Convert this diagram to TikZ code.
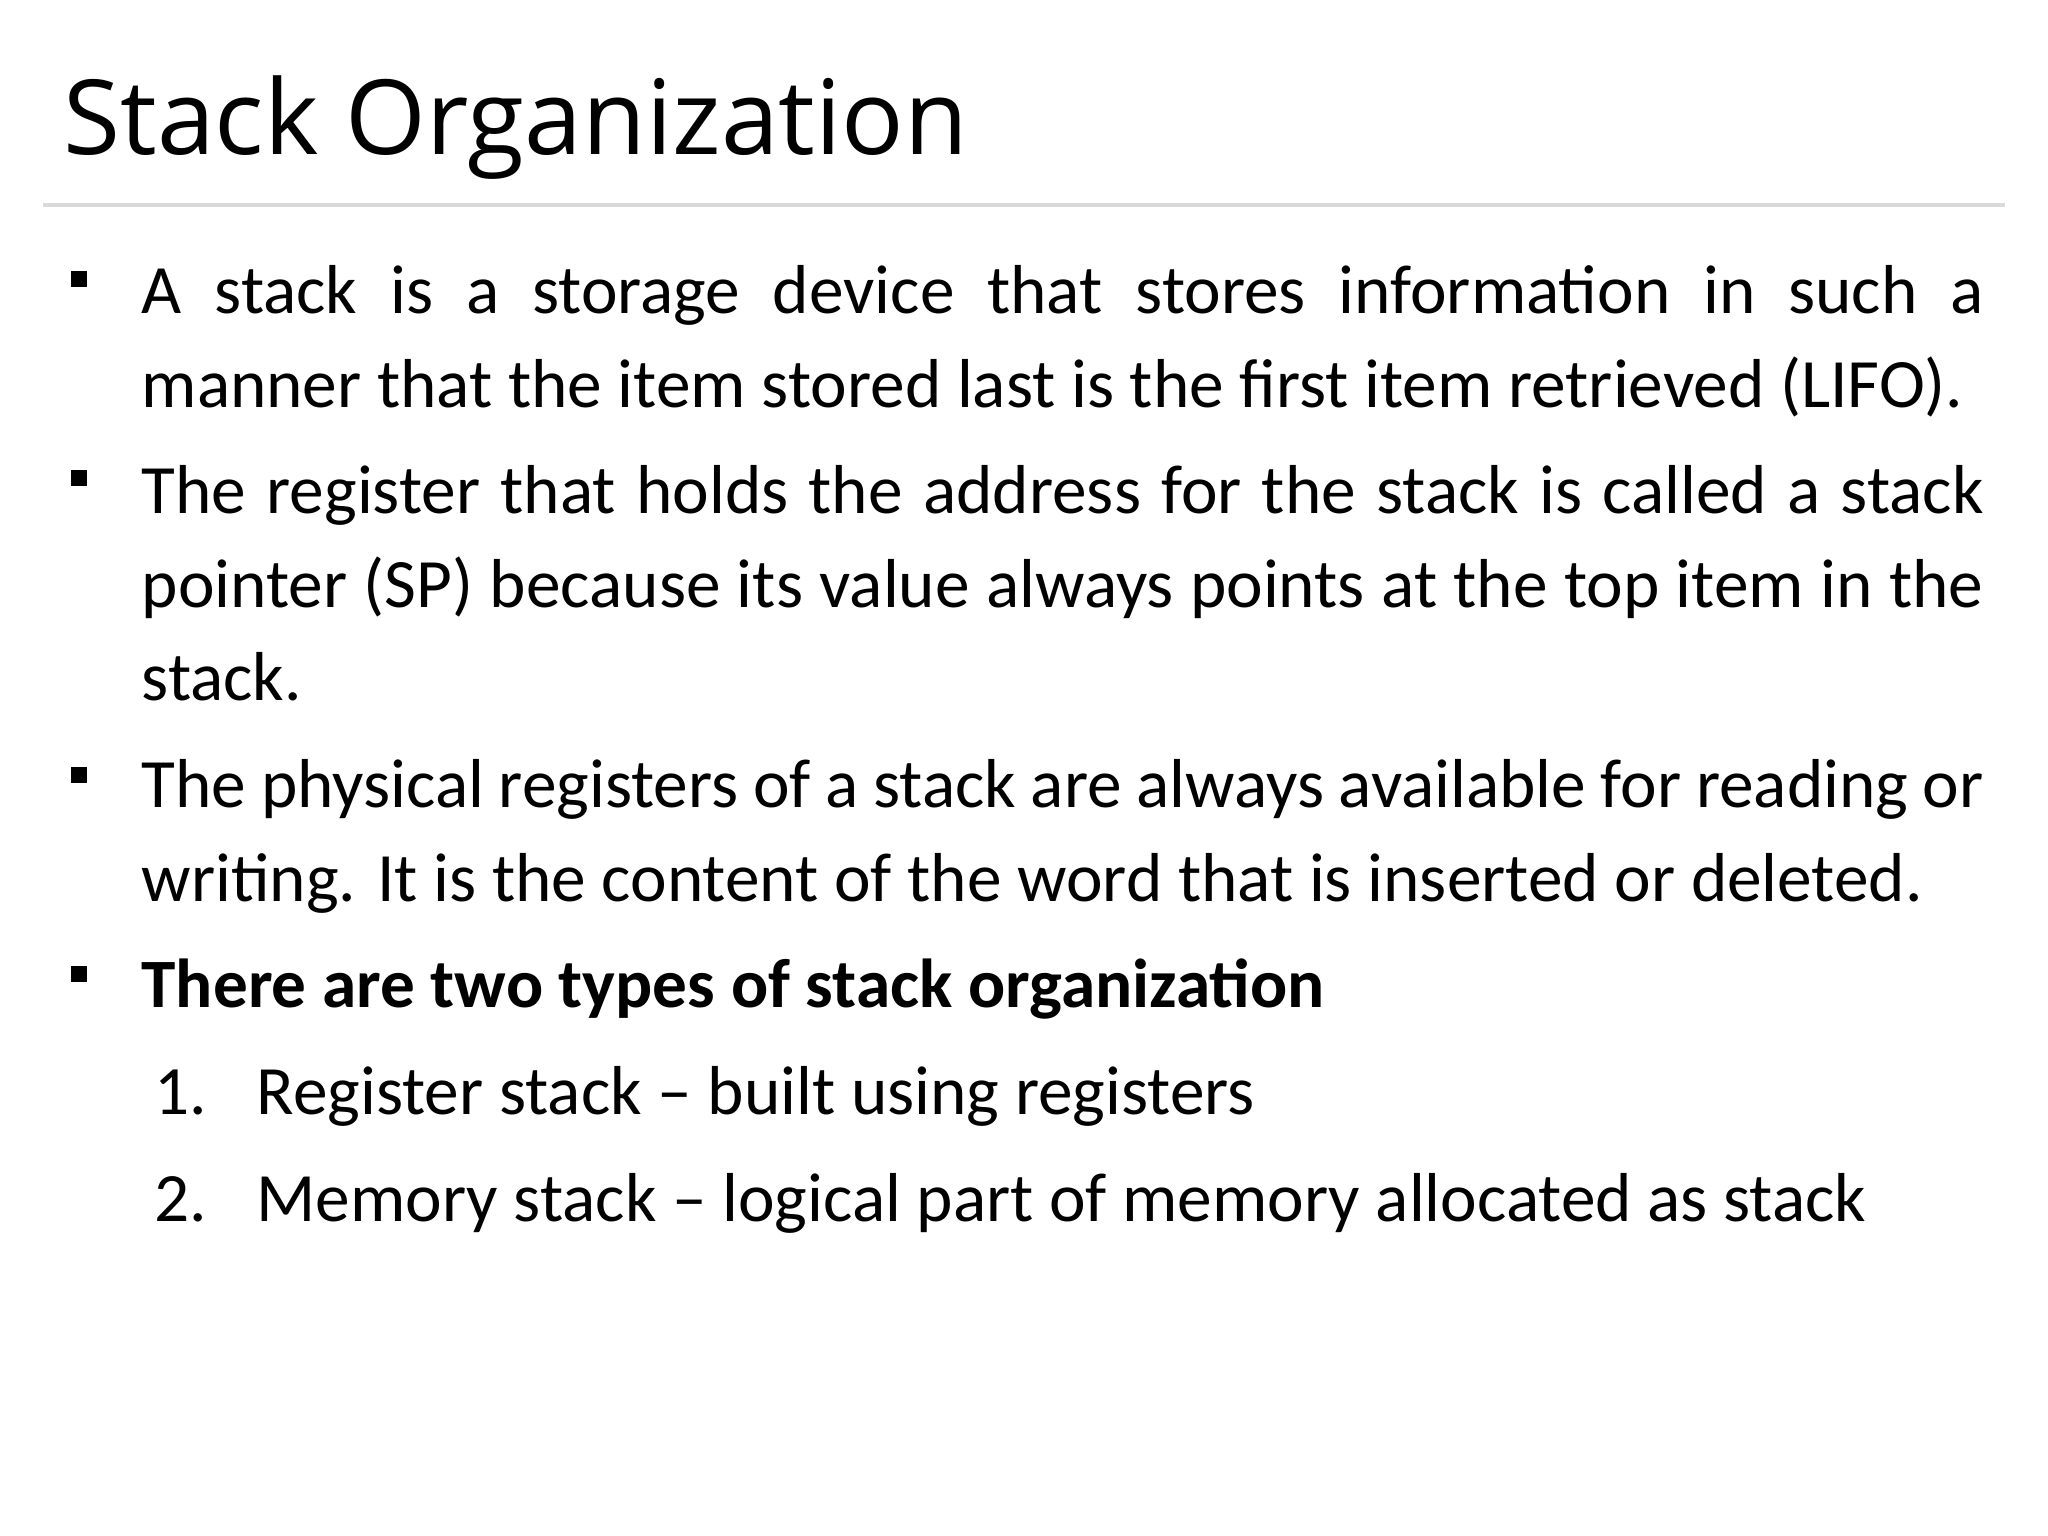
\documentclass[tikz,border=0pt]{standalone}
\usepackage{fontspec}
\setmainfont{Carlito}
\newfontfamily\titlefont{Open Sans}
\begin{document}
\begin{tikzpicture}[x=0.01cm,y=-0.01cm,
  ln/.style={anchor=base west,inner sep=0pt,font=\fontsize{19.7}{24}\selectfont},
  bul/.style={fill=black,draw=none}]
\useasboundingbox (0,0) rectangle (2048,1536);
\node[anchor=base west,inner sep=0pt,font=\titlefont\fontsize{29.5}{34}\selectfont] (title) at (63,154) {Stack Organization};
\draw[black!15,line width=1.2pt] (43,205) -- (2005,205);
\foreach \y in {279,478,775,974} \fill[bul] (71,\y-8) rectangle (87,\y+8);
\node[ln] (l1) at (141,313) {\makebox[18.41cm][s]{A stack is a storage device that stores information in such a}};
\node[ln] (l2) at (141,407) {manner that the item stored last is the first item retrieved (LIFO).};
\node[ln] (l3) at (141,513) {\makebox[18.41cm][s]{The register that holds the address for the stack is called a stack}};
\node[ln] (l4) at (141,607) {\makebox[18.41cm][s]{pointer (SP) because its value always points at the top item in the}};
\node[ln] (l5) at (141,700) {stack.};
\node[ln] (l6) at (141,807) {\makebox[18.41cm][s]{The physical registers of a stack are always available for reading or}};
\node[ln] (l7) at (141,901) {writing. It is the content of the word that is inserted or deleted.};
\node[ln,font=\bfseries\fontsize{19.7}{24}\selectfont] (l8) at (141,1007) {There are two types of stack organization};
\node[ln] (n1) at (154,1114) {1.};
\node[ln] (t1) at (256,1114) {Register stack – built using registers};
\node[ln] (n2) at (154,1221) {2.};
\node[ln] (t2) at (256,1221) {Memory stack – logical part of memory allocated as stack};
\end{tikzpicture}
\end{document}
